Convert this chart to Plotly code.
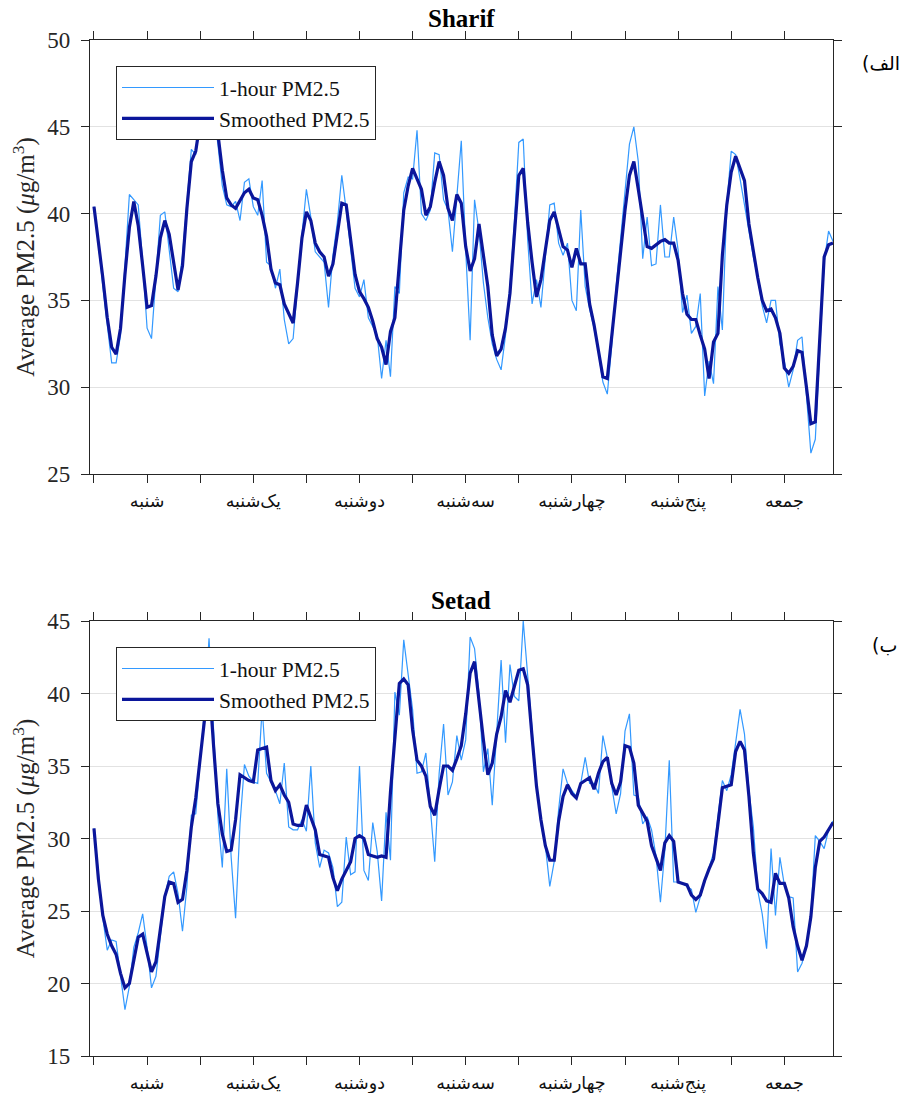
import plotly.graph_objects as go

# ---------------- data ----------------
hours = list(range(168))
day_names = ["شنبه", "یک‌شنبه", "دوشنبه", "سه‌شنبه", "چهارشنبه", "پنج‌شنبه", "جمعه"]
day_label_hours = [12, 36, 60, 84, 108, 132, 156]
day_start_hours = [0, 24, 48, 72, 96, 120, 144]

sharif_hourly = [
    40.4, 38.3, 35.8, 33.5, 31.4, 31.4, 33.0, 37.0, 41.1, 40.8, 40.5, 37.2,
    33.4, 32.8, 36.2, 39.9, 40.1, 38.0, 35.7, 35.5, 37.6, 40.6, 43.7, 43.4,
    45.5, 47.5, 48.0, 46.0, 44.0, 41.6, 40.5, 40.4, 40.7, 39.6, 41.8, 42.0,
    40.4, 39.9, 41.9, 37.2, 37.0, 35.7, 36.8, 33.9, 32.5, 32.8, 36.0, 38.8,
    41.4, 39.8, 37.8, 37.5, 37.2, 34.6, 37.6, 39.5, 42.2, 40.2, 37.9, 35.7,
    35.2, 36.2, 34.0, 33.5, 33.0, 30.5, 32.7, 30.6, 35.8, 35.4, 41.2, 42.1,
    42.0, 44.8, 40.0, 39.6, 40.2, 43.5, 43.4, 40.8, 40.2, 37.8, 41.1, 44.2,
    37.9, 32.7, 40.8, 39.0, 36.0, 34.0, 32.5, 31.6, 31.0, 33.0, 35.8, 39.5,
    44.1, 44.3, 38.5, 34.8, 36.2, 34.6, 37.5, 40.5, 40.6, 38.3, 37.6, 38.3,
    35.0, 34.4, 40.2, 35.8, 34.5, 33.4, 32.0, 30.3, 29.6, 32.4, 35.8, 38.5,
    41.5, 44.0, 45.0, 43.0, 37.4, 39.8, 37.0, 37.1, 40.5, 37.5, 37.5, 39.8,
    37.9, 34.3, 35.3, 33.1, 33.5, 35.4, 29.5, 31.5, 30.2, 35.8, 33.3, 40.5,
    43.6, 43.4, 42.0, 40.5, 39.0, 37.5, 36.3, 34.7, 33.7, 35.0, 35.0, 32.5,
    31.5, 30.0, 31.0, 32.7, 32.9, 29.5, 26.2, 27.0, 32.0, 37.2, 39.0, 38.4,
]
sharif_smooth = [
    40.4, 38.5, 36.3, 34.0, 32.3, 31.9, 33.4, 36.5, 39.2, 40.7, 39.3, 37.0,
    34.6, 34.7, 36.4, 38.6, 39.6, 38.8, 37.3, 35.6, 37.0, 40.3, 43.0, 43.6,
    45.3, 47.0, 47.5, 46.2, 44.6, 42.5, 40.9, 40.5, 40.3, 40.8, 41.2, 41.4,
    40.9, 40.8, 39.9, 38.7, 36.8, 36.0, 35.9, 34.8, 34.2, 33.7, 36.0, 38.6,
    40.1, 39.6, 38.3, 37.8, 37.5, 36.4, 37.1, 38.8, 40.6, 40.5, 38.5, 36.5,
    35.5, 35.1, 34.6, 33.8, 32.8, 32.3, 31.3, 33.2, 34.0, 37.3, 40.2, 41.6,
    42.6, 42.0, 41.4, 39.9, 40.4, 41.8, 43.0, 42.2, 40.3, 39.6, 41.1, 40.6,
    38.1, 36.7, 37.4, 39.4, 37.5, 35.8, 33.0, 31.8, 32.2, 33.4, 35.4, 38.8,
    42.2, 42.6, 39.5, 37.2, 35.2, 36.2, 37.8, 39.6, 40.1, 39.0, 38.1, 37.9,
    36.9, 38.0, 37.1, 37.1, 34.8, 33.6, 32.2, 30.6, 30.5, 33.0, 35.5, 37.8,
    40.2, 42.2, 43.0, 41.4, 39.6, 38.1, 38.0, 38.2, 38.4, 38.5, 38.3, 38.3,
    37.3, 35.4, 34.2, 33.9, 33.9, 33.0, 32.2, 30.5, 32.6, 33.1, 37.6, 40.5,
    42.4, 43.3, 42.6, 41.9, 39.4, 37.8, 36.3, 35.0, 34.4, 34.5, 34.0, 33.1,
    31.1, 30.8, 31.2, 32.1, 32.0, 30.0, 27.9, 28.0, 32.9, 37.5, 38.2, 38.3,
]
setad_hourly = [
    30.7, 27.5, 24.5, 22.3, 23.0, 22.9, 20.5, 18.2, 19.8, 22.5, 23.5, 24.8,
    22.5, 19.7, 20.5, 23.5, 26.0, 27.4, 27.7, 26.2, 23.6, 26.7, 31.6, 31.7,
    35.2, 39.0, 43.8, 38.0, 31.5, 28.0, 34.8, 28.7, 24.5, 31.0, 35.1, 34.3,
    33.9, 33.8, 39.0, 34.5, 33.9, 33.3, 32.4, 35.2, 30.8, 30.6, 30.6, 31.3,
    30.5, 35.0, 29.7, 28.0, 29.2, 29.0, 28.0, 25.3, 25.6, 30.1, 27.5, 27.7,
    35.0, 27.8, 27.1, 31.1, 29.1, 25.7, 31.8, 28.5, 40.1, 38.5, 43.7, 41.4,
    38.9, 34.5, 34.6, 35.9, 32.1, 28.4, 34.5, 37.9, 33.0, 33.9, 37.1, 35.4,
    36.8, 43.9, 43.1, 40.0, 34.6, 36.2, 32.3, 37.0, 42.3, 36.6, 42.0, 39.8,
    39.5, 45.0, 41.4, 37.5, 33.8, 31.0, 29.5, 26.7, 28.4, 32.0, 34.8, 33.8,
    33.3, 32.9, 33.8, 35.6, 33.8, 33.8, 33.1, 37.1, 35.6, 33.6, 31.7, 33.1,
    37.4, 38.6, 33.0, 32.9, 31.0, 31.5, 30.6, 28.8, 25.6, 29.2, 35.4, 27.0,
    27.0, 26.9, 26.7, 26.5, 24.9, 26.0, 27.0, 28.0, 29.0, 31.5, 34.0, 33.3,
    34.4, 36.6, 38.9, 37.2, 33.3, 30.8, 26.4, 24.8, 22.4, 29.3, 24.7, 28.7,
    26.8, 26.0, 25.9, 20.8, 21.4, 22.6, 24.6, 30.2, 29.8, 29.3, 30.6, 31.2,
]
setad_smooth = [
    30.7, 27.2, 24.7, 23.4, 22.6, 22.0, 20.7, 19.7, 20.0, 21.7, 23.2, 23.4,
    22.1, 20.8, 21.5, 23.6, 26.0, 27.0, 26.9, 25.6, 25.8, 27.8, 30.8, 32.8,
    35.5, 38.4, 41.0, 36.5, 32.4, 30.3, 29.1, 29.2, 31.3, 34.4, 34.2, 34.0,
    33.9, 36.1, 36.2, 36.3, 34.0, 33.3, 33.7, 33.0, 32.5, 31.0, 30.9, 30.9,
    32.3, 31.5, 30.6, 28.9, 28.8, 28.7, 27.3, 26.4, 27.2, 27.8, 28.4, 30.0,
    30.2, 30.0, 28.9, 28.8, 28.7, 28.8, 28.7, 33.2, 37.0, 40.7, 41.0, 40.6,
    37.5, 35.4, 35.0, 34.3, 32.2, 31.6, 33.4, 35.0, 35.0, 34.7, 35.5, 36.4,
    38.6, 41.4, 42.2, 39.3, 36.8, 34.4, 35.2, 37.2, 38.4, 40.2, 39.4, 40.5,
    41.6, 41.7, 40.6, 37.0, 33.6, 31.3, 29.5, 28.5, 28.5, 31.2, 32.9, 33.7,
    33.1, 32.8, 33.8, 34.0, 34.2, 33.4, 34.5, 35.3, 35.6, 33.8, 33.0, 33.9,
    36.4, 36.3, 35.2, 32.3, 31.8, 31.2, 29.5, 28.6, 27.8, 29.7, 30.2, 29.8,
    27.0, 26.9, 26.8, 26.1, 25.8, 26.1, 27.1, 27.9, 28.6, 31.0, 33.5, 33.6,
    33.7, 36.0, 36.7, 36.1, 32.9, 29.0, 26.5, 26.2, 25.7, 25.6, 27.6, 26.9,
    26.9, 25.9, 23.9, 22.6, 21.6, 22.6, 24.6, 28.0, 29.8, 30.1, 30.6, 31.1,
]

# ---------------- style ----------------
W, H = 904, 1093
LIGHT = "#3399ff"
DARK = "#0b169b"
AX = "#262626"
SERIF = "'Liberation Serif', 'Times New Roman', 'DejaVu Serif', serif"
FA = "'DejaVu Sans', sans-serif"

fig = go.Figure()
fig.add_trace(go.Scatter(x=hours, y=sharif_hourly, mode="lines", name="1-hour PM2.5",
                         line=dict(color=LIGHT, width=1.2), xaxis="x", yaxis="y", legend="legend"))
fig.add_trace(go.Scatter(x=hours, y=sharif_smooth, mode="lines", name="Smoothed PM2.5",
                         line=dict(color=DARK, width=3.2), xaxis="x", yaxis="y", legend="legend"))
fig.add_trace(go.Scatter(x=hours, y=setad_hourly, mode="lines", name="1-hour PM2.5",
                         line=dict(color=LIGHT, width=1.2), xaxis="x2", yaxis="y2", legend="legend2"))
fig.add_trace(go.Scatter(x=hours, y=setad_smooth, mode="lines", name="Smoothed PM2.5",
                         line=dict(color=DARK, width=3.2), xaxis="x2", yaxis="y2", legend="legend2"))

xdom = [90 / W, 833 / W]
ydom1 = [(H - 474) / H, (H - 40) / H]
ydom2 = [(H - 1056) / H, (H - 621) / H]

def xax(anchor):
    return dict(domain=xdom, anchor=anchor, range=[-0.9, 167],
                tickmode="array", tickvals=day_label_hours, ticktext=day_names,
                showline=True, linecolor=AX, linewidth=1.3, mirror="ticks", ticks="outside",
                ticklen=8, tickwidth=1.3, tickcolor=AX, showgrid=False, zeroline=False,
                ticklabelstandoff=3,
                minor=dict(tickmode="array", tickvals=day_start_hours, ticks="outside",
                           ticklen=8, tickwidth=1.3, tickcolor=AX, showgrid=False),
                tickfont=dict(family=FA, size=17.5, color="#111111"), fixedrange=True)

def yax(anchor, dom, rng):
    return dict(domain=dom, anchor=anchor, range=rng, dtick=5, tick0=0,
                showline=True, linecolor=AX, linewidth=1.3, mirror="ticks", ticks="outside",
                ticklen=8, tickwidth=1.3, tickcolor=AX, showgrid=True, gridcolor="#e2e2e2",
                gridwidth=1, zeroline=False, ticklabelstandoff=6,
                tickfont=dict(family=SERIF, size=23, color=AX),
                title=dict(text="Average PM2.5 (<i>μ</i>g/m<sup>3</sup>)", standoff=5,
                           font=dict(family=SERIF, size=25, color=AX)))

def leg(ytop):
    return dict(x=116 / W, y=1 - ytop / H, xanchor="left", yanchor="top",
                bgcolor="white", bordercolor=AX, borderwidth=1,
                font=dict(family=SERIF, size=21.5, color="#111111"),
                itemwidth=92, tracegroupgap=0)

fig.update_layout(
    width=W, height=H, margin=dict(l=0, r=0, t=0, b=0, autoexpand=False),
    paper_bgcolor="white", plot_bgcolor="white", showlegend=True,
    font=dict(family=SERIF),
    xaxis=xax("y"), yaxis=yax("x", ydom1, [25, 50]),
    xaxis2=xax("y2"), yaxis2=yax("x2", ydom2, [15, 45]),
    legend=leg(66), legend2=leg(647),
    annotations=[
        dict(text="<b>Sharif</b>", x=461.5 / W, y=1 - 18 / H, xref="paper", yref="paper",
             xanchor="center", yanchor="middle", showarrow=False,
             font=dict(family=SERIF, size=25, color="#000000")),
        dict(text="<b>Setad</b>", x=461.5 / W, y=1 - 600 / H, xref="paper", yref="paper",
             xanchor="center", yanchor="middle", showarrow=False,
             font=dict(family=SERIF, size=25, color="#000000")),
        dict(text="الف)\u200f", x=881 / W, y=1 - 63 / H, xref="paper", yref="paper",
             xanchor="center", yanchor="middle", showarrow=False,
             font=dict(family=FA, size=19, color="#000000")),
        dict(text="ب)\u200f", x=884 / W, y=1 - 645 / H, xref="paper", yref="paper",
             xanchor="center", yanchor="middle", showarrow=False,
             font=dict(family=FA, size=19, color="#000000")),
    ],
)

fig.write_html("out.html")
